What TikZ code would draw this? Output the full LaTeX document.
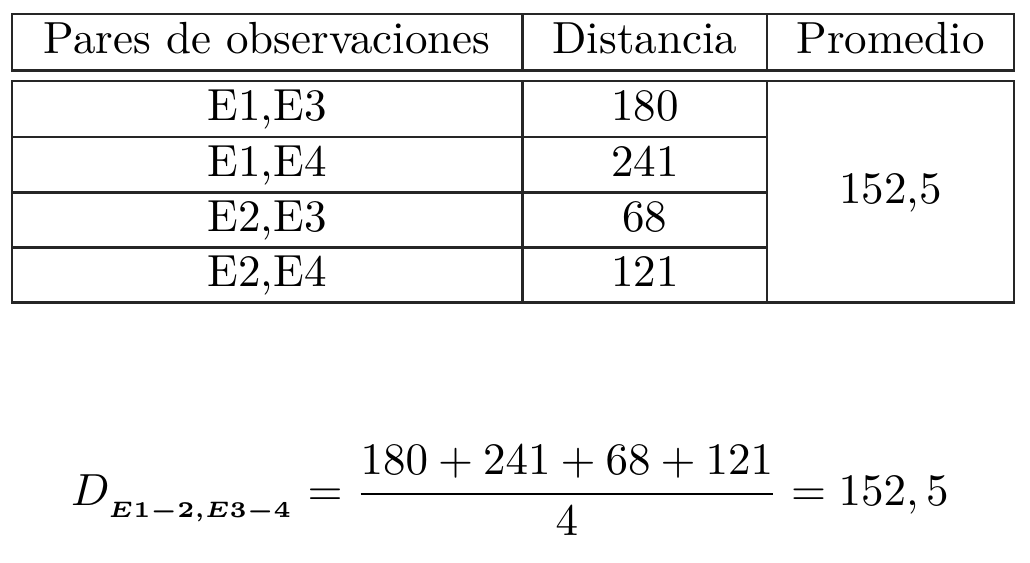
\documentclass[tikz,border=0pt]{standalone}
\usepackage{amsmath}
\newcommand{\pxu}{0.2222pt}
\begin{document}
\begin{tikzpicture}[x=\pxu, y=-\pxu, line width=0.55pt, cell/.style={draw=black!85, rectangle, inner sep=0pt, outer sep=0pt, text height=0.75em, text depth=0.25em}]
\useasboundingbox (0,0) rectangle (1030,563);
% cabecera
\node [cell, minimum width=510.5*\pxu, minimum height=56.5*\pxu] (h1) at (267.25,42.25) {Pares de observaciones};
\node [cell, minimum width=244.5*\pxu, minimum height=56.5*\pxu] (h2) at (644.75,42.25) {Distancia};
\node [cell, minimum width=247*\pxu, minimum height=56.5*\pxu] (h3) at (890.5,42.25) {Promedio};
% pares y distancias
\node [cell, minimum width=510.5*\pxu, minimum height=56*\pxu] (p1) at (267.25,109) {E1,E3};
\node [cell, minimum width=510.5*\pxu, minimum height=55.5*\pxu] (p2) at (267.25,164.75) {E1,E4};
\node [cell, minimum width=510.5*\pxu, minimum height=55*\pxu] (p3) at (267.25,220) {E2,E3};
\node [cell, minimum width=510.5*\pxu, minimum height=55*\pxu] (p4) at (267.25,275) {E2,E4};
\node [cell, minimum width=244.5*\pxu, minimum height=56*\pxu] (d1) at (644.75,109) {180};
\node [cell, minimum width=244.5*\pxu, minimum height=55.5*\pxu] (d2) at (644.75,164.75) {241};
\node [cell, minimum width=244.5*\pxu, minimum height=55*\pxu] (d3) at (644.75,220) {68};
\node [cell, minimum width=244.5*\pxu, minimum height=55*\pxu] (d4) at (644.75,275) {121};
\node [cell, minimum width=247*\pxu, minimum height=221.5*\pxu] (prom) at (890.5,191.75) {152,5};
% formula
\node [anchor=base west, inner sep=0pt] (eq) at (70,505) {$\displaystyle D_{_{\boldsymbol{E1-2,E3-4}}} = \frac{180+241+68+121}{4} = 152,5$};
\end{tikzpicture}
\end{document}
